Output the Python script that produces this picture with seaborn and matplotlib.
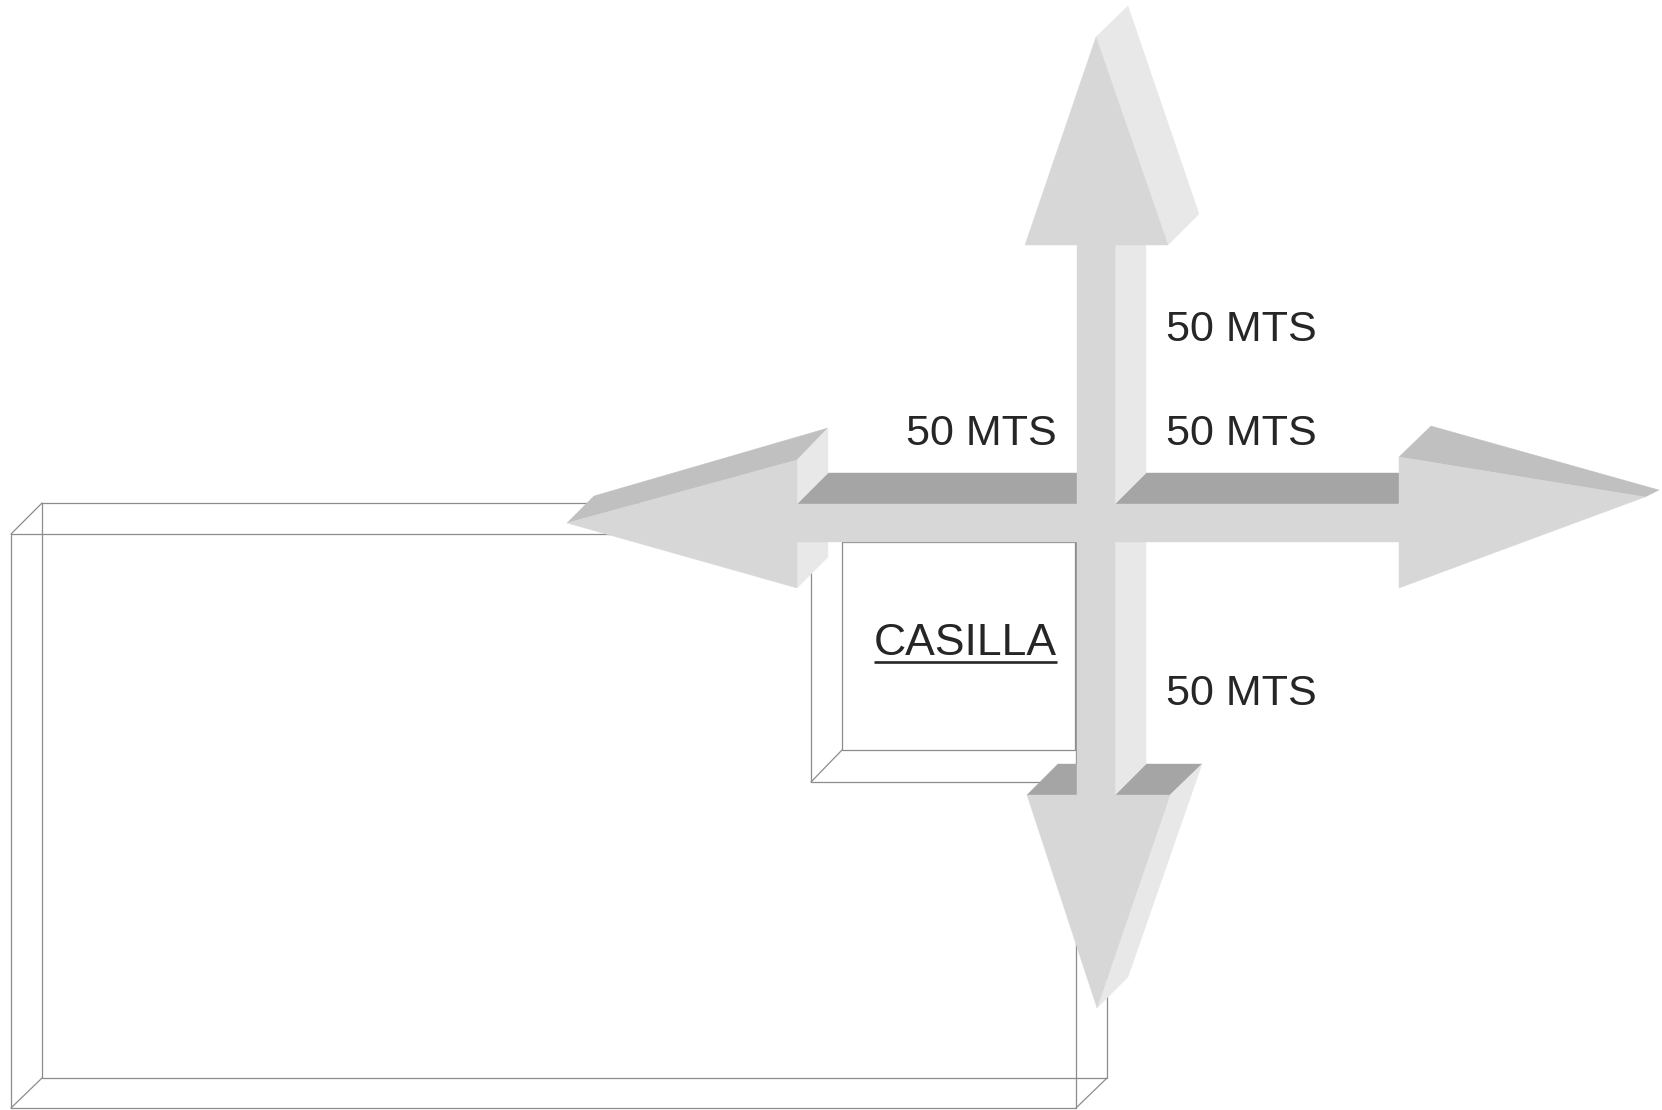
import matplotlib
matplotlib.use("Agg")
import matplotlib.pyplot as plt
import seaborn as sns

# --- geometry (pixel coordinates of the 1662x1110 sheet, y grows downward) ---
W, H = 1662, 1110

# cross front outline
cross_front = [(1096, 37), (1168, 245), (1115, 245), (1115, 504), (1399, 504),
               (1399, 457), (1645, 497), (1399, 588), (1399, 542), (1115, 542),
               (1115, 795), (1170, 795), (1097, 1008), (1027, 795), (1077, 795),
               (1077, 542), (797, 542), (797, 588), (567, 523), (797, 460),
               (797, 504), (1077, 504), (1077, 245), (1025, 245)]

# extruded faces that can be seen (tops face up, sides face right)
top_faces = [
    [(797, 504), (828, 473), (1108, 473), (1077, 504)],      # left arm
    [(1115, 504), (1146, 473), (1430, 473), (1399, 504)],    # right arm
    [(1027, 795), (1058, 764), (1108, 764), (1077, 795)],    # down head, left
    [(1115, 795), (1146, 764), (1202, 764), (1170, 795)],    # down head, right
]
slope_faces = [
    [(567, 523), (594, 496), (828, 428), (797, 460)],        # left head
    [(1399, 457), (1431, 426), (1659, 490), (1645, 497)],    # right head
]
side_faces = [
    [(1096, 37), (1128, 6), (1199, 214), (1168, 245)],       # up head
    [(1115, 245), (1146, 214), (1146, 473), (1115, 504)],    # upper shaft
    [(1115, 542), (1146, 511), (1146, 764), (1115, 795)],    # lower shaft
    [(1170, 795), (1202, 764), (1128, 977), (1097, 1008)],   # down head
    [(797, 460), (828, 428), (828, 473), (797, 504)],        # left head base
    [(797, 542), (828, 511), (828, 557), (797, 588)],
]

# outline of the plot of land and the booth (casilla)
lote_back = [(42, 503), (1107, 503), (1107, 1078), (42, 1078), (42, 503)]
lote_front = [(11, 534), (1076, 534), (1076, 1108), (11, 1108), (11, 534)]
lote_links = [[(11, 534), (42, 503)], [(11, 1108), (42, 1078)], [(1076, 1108), (1107, 1078)]]
casilla_back = [(842, 542), (1075, 542), (1075, 750), (842, 750), (842, 542)]
casilla_front = [(811, 573), (811, 782), (1076, 782)]
casilla_links = [[(842, 750), (811, 782)]]

etiquetas = ["50 MTS", "50 MTS", "50 MTS", "50 MTS"]
etiq_pos = [(1057, 445, "right"), (1166, 445, "left"), (1166, 341, "left"), (1166, 705, "left")]
casilla_txt = "CASILLA"

sns.set_theme(style="white")
plt.rcParams['font.family'] = ['Liberation Sans', 'DejaVu Sans']

fig = plt.figure(figsize=(W / 100, H / 100), dpi=100)
ax = fig.add_axes([0, 0, 1, 1])
ax.set_xlim(0, W)
ax.set_ylim(H, 0)
ax.axis("off")


def poly(pts, color, z):
    xs, ys = zip(*pts)
    ax.fill(xs, ys, color=color, lw=0.3, ec=color, zorder=z)


def line(pts, z=1):
    xs, ys = zip(*pts)
    ax.plot(xs, ys, color="#8c8c8c", lw=0.9, zorder=z)


# thin outlines underneath the cross
for seg in [lote_back, lote_front, casilla_back, casilla_front] + lote_links + casilla_links:
    line(seg)

for f in top_faces:
    poly(f, "#a5a5a5", 2)
for f in slope_faces:
    poly(f, "#c0c0c0", 2)
for f in side_faces:
    poly(f, "#e8e8e8", 2)
poly(cross_front, "#d7d7d7", 3)

for txt, (x, y, ha) in zip(etiquetas, etiq_pos):
    ax.text(x, y, txt, ha=ha, va="baseline", fontsize=31, color="#262626", zorder=5)

t = ax.text(1057, 655, casilla_txt, ha="right", va="baseline", fontsize=32, color="#262626", zorder=5)
fig.canvas.draw()
bb = t.get_window_extent().transformed(ax.transData.inverted())
ax.plot([bb.x0, bb.x1], [662, 662], color="#262626", lw=1.9, solid_capstyle="butt", zorder=5)

fig.savefig("out.png", dpi=100, facecolor="white")
